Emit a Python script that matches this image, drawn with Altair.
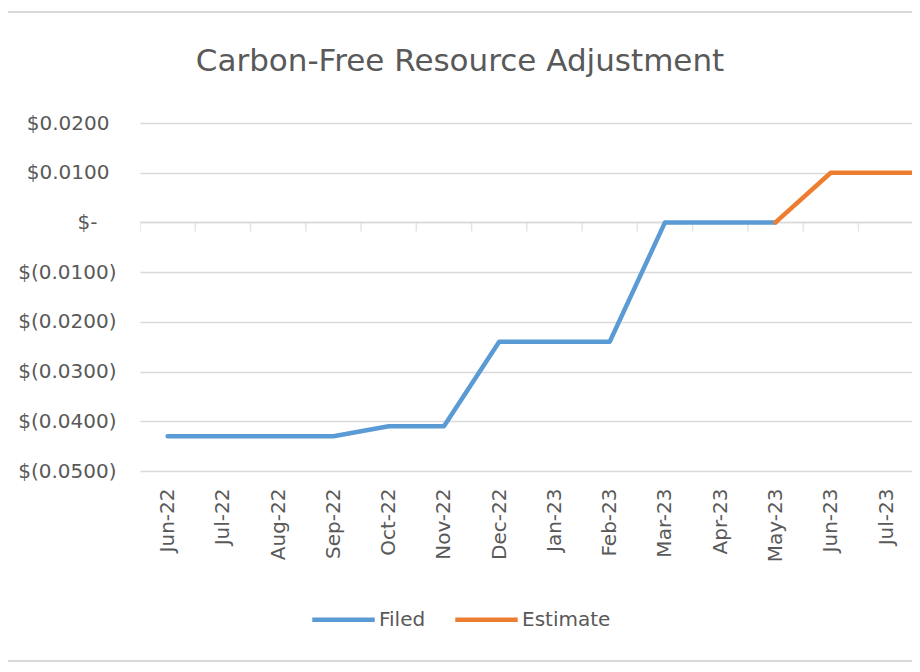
import json
import altair as alt
import pandas as pd

months = ['Jun-22', 'Jul-22', 'Aug-22', 'Sep-22', 'Oct-22', 'Nov-22', 'Dec-22', 'Jan-23',
          'Feb-23', 'Mar-23', 'Apr-23', 'May-23', 'Jun-23', 'Jul-23', 'Aug-23']
filed_months = months[:12]
filed = [-0.043, -0.043, -0.043, -0.043, -0.041, -0.041, -0.024, -0.024, -0.024, 0.0, 0.0, 0.0]
estimate_months = ['May-23', 'Jun-23', 'Jul-23', 'Aug-23']
estimate = [0.0, 0.01, 0.01, 0.01]
y_ticks = [-0.05, -0.04, -0.03, -0.02, -0.01, 0.0, 0.01, 0.02]
title_text = 'Carbon-Free Resource Adjustment'

rows = [{'idx': months.index(m), 'month': m, 'value': v, 'series': 'Filed'} for m, v in zip(filed_months, filed)]
rows += [{'idx': months.index(m), 'month': m, 'value': v, 'series': 'Estimate'} for m, v in zip(estimate_months, estimate)]
df = pd.DataFrame(rows)

# category boundaries for the tick marks on the zero line
ticks_df = pd.DataFrame({'b': [i - 0.5 for i in range(len(months))]})

FONT = 'DejaVu Sans'
GRAY = '#595959'
GRID = '#d9d9d9'
W, H = 772, 348

x_scale = alt.Scale(domain=[-0.5, 13.47], nice=False, zero=False)
y_scale = alt.Scale(domain=[-0.05, 0.02], nice=False)

label_js = json.dumps(months)
y_label = ("abs(datum.value) < 1e-9 ? '$-' : (datum.value > 0 ? '$' + format(datum.value, '.4f')"
           " : '$(' + format(-datum.value, '.4f') + ')')")
y_pad = {'condition': [{'test': 'abs(datum.value) < 1e-9', 'value': 43},
                       {'test': 'datum.value > 0', 'value': 31}],
         'value': 24}

lines = alt.Chart(df).mark_line(strokeWidth=4.5, strokeCap='round', strokeJoin='round', clip=True).encode(
    x=alt.X('idx:Q', scale=x_scale, title=None,
            axis=alt.Axis(values=list(range(14)), labelExpr=label_js + '[datum.value]', labelAngle=270,
                          labelPadding=17, labelFontSize=20, labelFont=FONT, labelColor=GRAY,
                          grid=False, ticks=False, domain=False, labelOverlap=False, labelFlush=False)),
    y=alt.Y('value:Q', scale=y_scale, title=None,
            axis=alt.Axis(values=y_ticks, labelExpr=y_label, labelPadding=y_pad, labelFontSize=20, labelFont=FONT,
                          labelColor=GRAY, grid=True, gridColor=GRID, gridWidth=1.5, ticks=False, domain=False)),
    color=alt.Color('series:N', scale=alt.Scale(domain=['Filed', 'Estimate'], range=['#5B9BD5', '#ED7D31']),
                    legend=alt.Legend(title=None, orient='none', legendX=170, legendY=463, direction='horizontal',
                                      symbolType='stroke', symbolSize=3900, symbolStrokeWidth=4.5,
                                      labelFontSize=20, labelFont=FONT, labelColor=GRAY, labelOffset=2,
                                      columnPadding=20, padding=0)),
    detail='series:N'
)

zero_line = alt.Chart(pd.DataFrame({'v': [0.0]})).mark_rule(color=GRID, strokeWidth=1.5).encode(
    y=alt.Y('v:Q', scale=y_scale)
)

zero_ticks = alt.Chart(ticks_df).mark_tick(color=GRID, thickness=1.5, size=9, yOffset=4.5, clip=True).encode(
    x=alt.X('b:Q', scale=x_scale),
    y=alt.datum(0.0)
)

title = alt.Chart(pd.DataFrame({'t': [title_text]})).mark_text(
    font=FONT, fontSize=31, color=GRAY, align='center', baseline='middle', clip=False
).encode(x=alt.value(320), y=alt.value(-61), text='t:N')

top_border = alt.Chart(pd.DataFrame({'v': [0]})).mark_rule(color=GRID, strokeWidth=2, clip=False).encode(
    x=alt.value(-132), x2=alt.value(W), y=alt.value(-111)
)
bottom_border = alt.Chart(pd.DataFrame({'v': [0]})).mark_rule(color=GRID, strokeWidth=2, clip=False).encode(
    x=alt.value(-132), x2=alt.value(W), y=alt.value(538)
)

chart = alt.layer(zero_line, zero_ticks, lines, title, top_border, bottom_border).properties(
    width=W,
    height=H,
    autosize=alt.AutoSizeParams(type='none'),
    padding={'left': 132, 'top': 115, 'right': 0, 'bottom': 193}
).configure_view(stroke=None)

chart.save("out.html", embed_options={"renderer": "svg", "actions": False})
